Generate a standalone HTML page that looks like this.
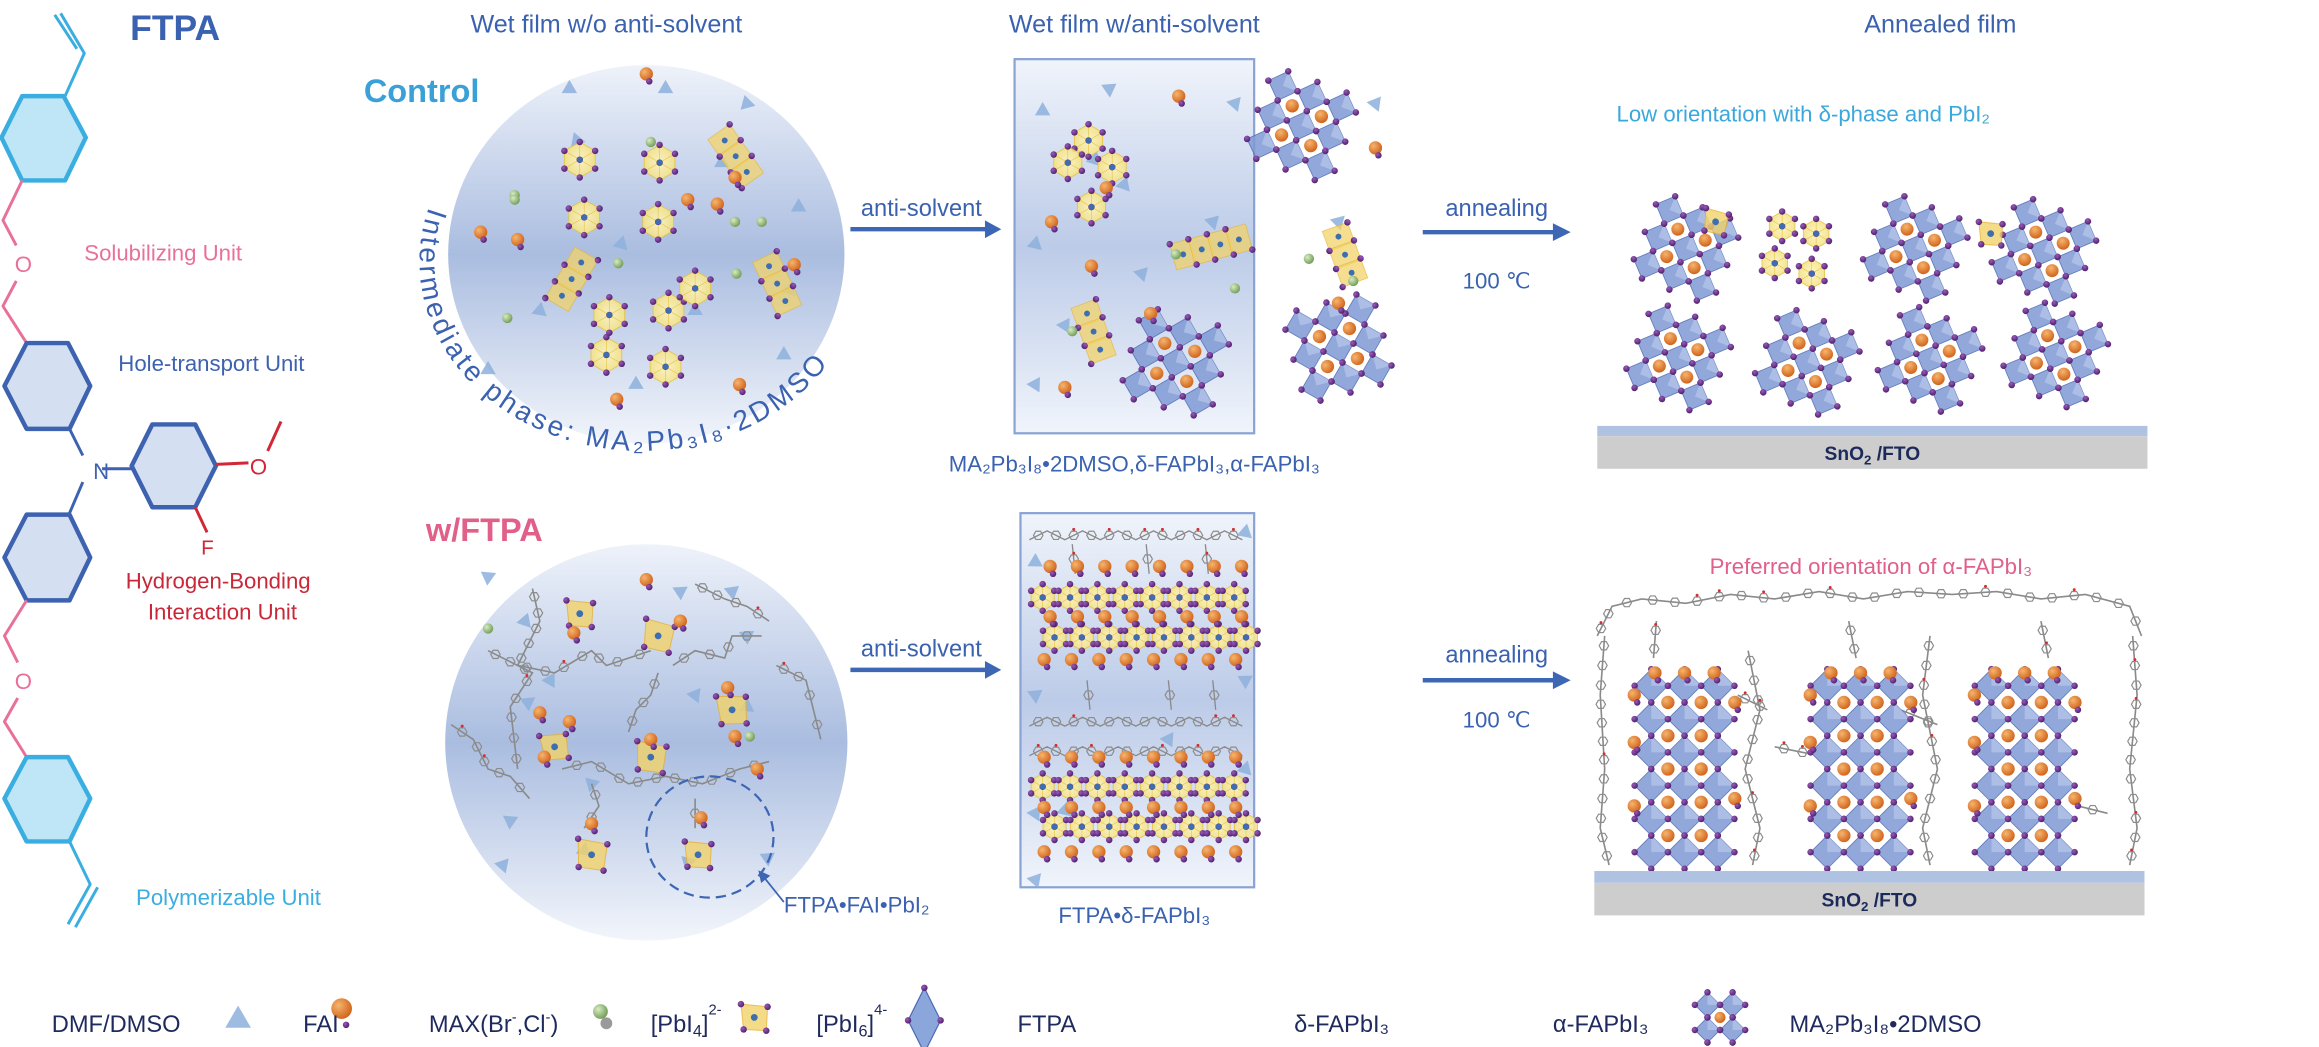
<!DOCTYPE html>
<html><head><meta charset="utf-8"><style>
html,body{margin:0;padding:0;background:#fff;}
svg{display:block;}
text{font-family:"Liberation Sans",sans-serif;}
</style></head><body>
<svg id="s" width="2319" height="1047" viewBox="0 0 1568 708" preserveAspectRatio="none" xmlns="http://www.w3.org/2000/svg">
<defs>
<linearGradient id="band" x1="0" y1="0" x2="0" y2="1">
<stop offset="0" stop-color="#eef2fa"/><stop offset="0.5" stop-color="#aabde0"/><stop offset="1" stop-color="#f2f5fb"/>
</linearGradient>
<linearGradient id="box" x1="0" y1="0" x2="0" y2="1">
<stop offset="0" stop-color="#f0f4fb"/><stop offset="0.5" stop-color="#bccbe8"/><stop offset="1" stop-color="#f0f4fb"/>
</linearGradient>
<radialGradient id="org" cx="35%" cy="35%" r="70%"><stop offset="0" stop-color="#f6b56e"/><stop offset="1" stop-color="#d0621a"/></radialGradient>
<radialGradient id="pur" cx="35%" cy="35%" r="70%"><stop offset="0" stop-color="#9a5ab8"/><stop offset="1" stop-color="#4d1f6b"/></radialGradient>
<radialGradient id="grn" cx="35%" cy="35%" r="70%"><stop offset="0" stop-color="#d8ecc0"/><stop offset="1" stop-color="#6f9a58"/></radialGradient>
<radialGradient id="hexg" cx="50%" cy="50%" r="60%"><stop offset="0" stop-color="#fff4c0"/><stop offset="1" stop-color="#f1df7a"/></radialGradient>
<marker id="ah" markerWidth="8" markerHeight="8" refX="6" refY="4" orient="auto" markerUnits="userSpaceOnUse"><path d="M0,0 L8,4 L0,8 z" fill="#3d67b4"/></marker>
</defs>

<text x="88" y="27" font-size="24" font-weight="bold" fill="#3a62b0">FTPA</text>
<text x="410" y="22" font-size="17" fill="#3a62b0" text-anchor="middle">Wet film w/o anti-solvent</text>
<text x="767" y="22" font-size="17" fill="#3a62b0" text-anchor="middle">Wet film w/anti-solvent</text>
<text x="1312" y="22" font-size="17" fill="#3a62b0" text-anchor="middle">Annealed film</text>
<text x="246" y="69" font-size="22" font-weight="bold" fill="#3aa0d8">Control</text>
<text x="288" y="366" font-size="22" font-weight="bold" fill="#e0608a">w/FTPA</text>

<g fill="none" stroke-width="3" stroke-linejoin="round">
<polygon points="43,65 58,93 44,122 15,122 1,93 15,65" stroke="#3aaee0" fill="#bfe6f7"/>
<polyline points="44,65 57,36 41,9" stroke="#3aaee0" stroke-width="2"/>
<line x1="52" y1="33" x2="37" y2="10" stroke="#3aaee0" stroke-width="2"/>
<polyline points="15,122 2,149 11,166" stroke="#e8709a" stroke-width="2"/>
<polyline points="11,190 2,207 18,232" stroke="#e8709a" stroke-width="2"/>
<polygon points="18,232 46,232 61,261 47,290 18,290 3,261" stroke="#3d62b0" fill="#d4dff2"/>
<line x1="47" y1="290" x2="56" y2="308" stroke="#3d62b0" stroke-width="2"/>
<line x1="69" y1="317" x2="90" y2="317" stroke="#3d62b0" stroke-width="2"/>
<line x1="56" y1="326" x2="47" y2="347" stroke="#3d62b0" stroke-width="2"/>
<polygon points="103,287 132,287 146,315 132,343 103,343 89,315" stroke="#3d62b0" fill="#d4dff2"/>
<line x1="146" y1="314" x2="168" y2="313" stroke="#d02838" stroke-width="2"/>
<line x1="181" y1="305" x2="190" y2="285" stroke="#d02838" stroke-width="2"/>
<line x1="132" y1="343" x2="140" y2="360" stroke="#d02838" stroke-width="2"/>
<polygon points="18,348 47,348 61,377 47,406 18,406 3,377" stroke="#3d62b0" fill="#d4dff2"/>
<polyline points="18,406 3,430 12,448" stroke="#e8709a" stroke-width="2"/>
<polyline points="12,472 3,488 18,512" stroke="#e8709a" stroke-width="2"/>
<polygon points="18,512 46,512 61,540 47,569 18,569 3,540" stroke="#3aaee0" fill="#bfe6f7"/>
<polyline points="47,569 61,598 46,625" stroke="#3aaee0" stroke-width="2"/>
<line x1="66" y1="600" x2="51" y2="627" stroke="#3aaee0" stroke-width="2"/>
</g>
<text x="10" y="184" font-size="15" fill="#e8709a">O</text>
<text x="10" y="466" font-size="15" fill="#e8709a">O</text>
<text x="63" y="324" font-size="15" fill="#3d62b0">N</text>
<text x="169" y="321" font-size="15" fill="#d02838">O</text>
<text x="136" y="375" font-size="14" fill="#d02838">F</text>
<text x="57" y="176" font-size="15" fill="#e8709a">Solubilizing Unit</text>
<text x="80" y="251" font-size="15" fill="#3d62b0">Hole-transport Unit</text>
<text x="85" y="398" font-size="15" fill="#c82838">Hydrogen-Bonding</text>
<text x="100" y="419" font-size="15" fill="#c82838">Interaction Unit</text>
<text x="92" y="612" font-size="15" fill="#3aaee0">Polymerizable Unit</text>

<ellipse cx="437" cy="172" rx="134" ry="128" fill="url(#band)"/>
<ellipse cx="437" cy="502" rx="136" ry="134" fill="url(#band)"/>
<rect x="686" y="40" width="162" height="253" fill="url(#box)" stroke="#8aa3d4" stroke-width="1.5"/>
<rect x="690" y="347" width="158" height="253" fill="url(#box)" stroke="#8aa3d4" stroke-width="1.5"/>
<g id="deco"></g>

<path id="arc" d="M 290 140 A 150 128 0 1 0 583 165" fill="none"/>
<text font-size="19" fill="#3a62b0"><textPath href="#arc" startOffset="0" textLength="400" lengthAdjust="spacing">Intermediate phase: MA₂Pb₃I₈·2DMSO</textPath></text>

<g stroke="#3d67b4" stroke-width="3" fill="#3d67b4">
<line x1="575" y1="155" x2="668" y2="155"/><path d="M666,149 L677,155 L666,161z" stroke="none"/>
<line x1="575" y1="453" x2="668" y2="453"/><path d="M666,447 L677,453 L666,459z" stroke="none"/>
<line x1="962" y1="157" x2="1052" y2="157"/><path d="M1050,151 L1062,157 L1050,163z" stroke="none"/>
<line x1="962" y1="460" x2="1052" y2="460"/><path d="M1050,454 L1062,460 L1050,466z" stroke="none"/>
</g>
<text x="623" y="146" font-size="16" fill="#3a62b0" text-anchor="middle">anti-solvent</text>
<text x="623" y="444" font-size="16" fill="#3a62b0" text-anchor="middle">anti-solvent</text>
<text x="1012" y="146" font-size="16" fill="#3a62b0" text-anchor="middle">annealing</text>
<text x="1012" y="448" font-size="16" fill="#3a62b0" text-anchor="middle">annealing</text>
<text x="1012" y="195" font-size="15" fill="#3a62b0" text-anchor="middle">100 <tspan font-family="Liberation Serif">℃</tspan></text>
<text x="1012" y="492" font-size="15" fill="#3a62b0" text-anchor="middle">100 <tspan font-family="Liberation Serif">℃</tspan></text>

<text x="767" y="319" font-size="15" fill="#3a62b0" text-anchor="middle">MA₂Pb₃I₈•2DMSO,δ-FAPbI₃,α-FAPbI₃</text>
<text x="767" y="624" font-size="15" fill="#3a62b0" text-anchor="middle">FTPA•δ-FAPbI₃</text>
<text x="1093" y="82" font-size="15" fill="#3aa8dc">Low orientation with δ-phase and PbI₂</text>
<text x="1265" y="388" font-size="15" fill="#e0608a" text-anchor="middle">Preferred orientation of α-FAPbI₃</text>
<text x="530" y="617" font-size="15" fill="#3a62b0">FTPA•FAI•PbI₂</text>
<ellipse cx="480" cy="566" rx="43" ry="41" fill="none" stroke="#3d67b4" stroke-width="1.5" stroke-dasharray="7,4"/>
<line x1="530" y1="610" x2="514" y2="590" stroke="#3d67b4" stroke-width="1.2" marker-end="url(#ah)"/>

<rect x="1080" y="288" width="372" height="7" fill="#b0c2e2"/>
<rect x="1080" y="295" width="372" height="22" fill="#cdcdcd"/>
<text x="1266" y="311" font-size="13" font-weight="bold" fill="#1c2a5a" text-anchor="middle" font-family="Liberation Serif">SnO<tspan font-size="9" dy="3">2</tspan><tspan dy="-3"> /FTO</tspan></text>
<rect x="1078" y="589" width="372" height="8" fill="#b0c2e2"/>
<rect x="1078" y="597" width="372" height="22" fill="#cdcdcd"/>
<text x="1264" y="613" font-size="13" font-weight="bold" fill="#1c2a5a" text-anchor="middle" font-family="Liberation Serif">SnO<tspan font-size="9" dy="3">2</tspan><tspan dy="-3"> /FTO</tspan></text>

<g font-size="16" fill="#1e2a5e">
<text x="35" y="698">DMF/DMSO</text>
<text x="205" y="698">FAI</text>
<text x="290" y="698">MAX(Br<tspan font-size="10" dy="-7">-</tspan><tspan dy="7">,Cl</tspan><tspan font-size="10" dy="-7">-</tspan><tspan dy="7">)</tspan></text>
<text x="440" y="698">[PbI<tspan font-size="11" dy="3">4</tspan><tspan dy="-3">]</tspan><tspan font-size="10" dy="-12">2-</tspan></text>
<text x="552" y="698">[PbI<tspan font-size="11" dy="3">6</tspan><tspan dy="-3">]</tspan><tspan font-size="10" dy="-12">4-</tspan></text>
<text x="688" y="698">FTPA</text>
<text x="875" y="698">δ-FAPbI₃</text>
<text x="1050" y="698">α-FAPbI₃</text>
<text x="1210" y="698">MA₂Pb₃I₈•2DMSO</text>
</g>
</svg>
<script>
var NS="http://www.w3.org/2000/svg",D=document.getElementById('deco');
function el(t,a,p){var e=document.createElementNS(NS,t);for(var k in a)e.setAttribute(k,a[k]);(p||D).appendChild(e);return e;}
var seed=7;function rnd(){seed=(seed*16807)%2147483647;return seed/2147483647;}
function ball(x,y,r,f){el('circle',{cx:x,cy:y,r:r,fill:'url(#'+f+')'});}
function pdot(x,y){ball(x,y,2.2,'pur');}
function tri(x,y,s,rot){var g=el('g',{transform:'translate('+x+','+y+') rotate('+rot+')'});el('polygon',{points:'0,'+(-s)+' '+(s*0.87)+','+(s*0.5)+' '+(-s*0.87)+','+(s*0.5),fill:'#8db0dc',opacity:0.85},g);}
function fai(x,y){ball(x,y,4.5,'org');pdot(x+2,y+5);}
function max(x,y){ball(x,y,3.5,'grn');}
function yhex(x,y,r){var p=[];for(var i=0;i<6;i++){var a=Math.PI/3*i+Math.PI/6;p.push([x+r*Math.cos(a),y+r*Math.sin(a)]);}
el('polygon',{points:p.map(function(q){return q.join(',')}).join(' '),fill:'url(#hexg)',stroke:'#e6c23c','stroke-width':0.6,opacity:0.9});
p.forEach(function(q){el('line',{x1:x,y1:y,x2:q[0],y2:q[1],stroke:'#e6c23c','stroke-width':0.4});});
p.forEach(function(q){pdot(q[0],q[1]);});ball(x,y,2.2,'pur');el('circle',{cx:x,cy:y,r:2,fill:'#3d6fb0'});}
function ychain(x,y,n,rot){var g=el('g',{transform:'translate('+x+','+y+') rotate('+rot+')'});var sv=D;D=g;
for(var i=0;i<n;i++){el('polygon',{points:(i*13-7)+',-9 '+(i*13+7)+',-9 '+(i*13+7)+',9 '+(i*13-7)+',9',fill:'#f2d36a',opacity:0.75,stroke:'#e8b830','stroke-width':0.6});}
for(var i=0;i<n;i++){pdot(i*13-7,-9);pdot(i*13+7,9);el('circle',{cx:i*13,cy:0,r:2,fill:'#3d6fb0'});}D=sv;}
function pbi4(x,y,s,rot){var g=el('g',{transform:'translate('+x+','+y+') rotate('+rot+')'});var sv=D;D=g;
el('polygon',{points:(-s)+','+(-s)+' '+s+','+(-s*0.8)+' '+(s*0.9)+','+s+' '+(-s*0.8)+','+(s*0.9),fill:'#f2d36a',opacity:0.8,stroke:'#e8b030','stroke-width':0.7});
pdot(-s,-s);pdot(s,-s*0.8);pdot(s*0.9,s);pdot(-s*0.8,s*0.9);el('circle',{cx:0,cy:0,r:2.3,fill:'#3d6fb0'});D=sv;}
function cluster(x,y,d,rot,n,m){var g=el('g',{transform:'translate('+x+','+y+') rotate('+rot+')'});var sv=D;D=g;
n=n||3;m=m||3;var ox=-(n-1)*d/2,oy=-(m-1)*d/2,h=d/2;
for(var i=0;i<n;i++)for(var j=0;j<m;j++){var cx=ox+i*d,cy=oy+j*d;
el('polygon',{points:cx+','+(cy-h)+' '+(cx+h)+','+cy+' '+cx+','+(cy+h)+' '+(cx-h)+','+cy,fill:'#7f9ad4',opacity:0.85,stroke:'#4a68b4','stroke-width':0.6});
el('polygon',{points:cx+','+(cy-h)+' '+(cx+h)+','+cy+' '+cx+','+cy,fill:'#b8c8ea',opacity:0.7});}
for(var i=0;i<n;i++)for(var j=0;j<m;j++){var cx=ox+i*d,cy=oy+j*d;pdot(cx,cy-h);pdot(cx+h,cy);pdot(cx,cy+h);pdot(cx-h,cy);}
for(var i=0;i<n-1;i++)for(var j=0;j<m-1;j++)ball(ox+(i+0.5)*d,oy+(j+0.5)*d,Math.min(4.5,d*0.22),'org');D=sv;}
function poly(pts,w){el('polyline',{points:pts.map(function(q){return q.join(',')}).join(' '),fill:'none',stroke:'#8a8a8a','stroke-width':w||1.1});
for(var k=0;k<pts.length-1;k++){var a=pts[k],b=pts[k+1],L=Math.hypot(b[0]-a[0],b[1]-a[1]),nn=Math.floor(L/11);
for(var t=0;t<nn;t++){var f=(t+0.5)/nn,x=a[0]+(b[0]-a[0])*f,y=a[1]+(b[1]-a[1])*f;
var r=3.2,p=[];for(var i=0;i<6;i++){var an=Math.PI/3*i;p.push((x+r*Math.cos(an))+','+(y+r*Math.sin(an)));}
el('polygon',{points:p.join(' '),fill:'none',stroke:'#8c8c8c','stroke-width':0.8});
if(rnd()<0.25)el('circle',{cx:x,cy:y-4,r:1,fill:'#d03030'});}}}

[[390,95,-20],[365,210,10],[420,165,15],[505,70,-15],[534,196,20],[488,110,0],[330,250,0],[540,140,0],[385,60,0],[470,210,0],[530,240,0],[430,260,0],[450,60,0]].forEach(function(t){tri(t[0],t[1],6,t[2]);});
[[392,108],[446,110],[395,147],[445,150],[452,210],[412,213],[470,195],[410,240],[450,248]].forEach(function(c){yhex(c[0],c[1],12);});
ychain(490,95,3,55);ychain(380,200,3,-60);ychain(520,180,3,65);
[[437,50],[485,138],[325,157],[350,162],[537,179],[465,135],[497,120],[417,270],[500,260]].forEach(function(c){fai(c[0],c[1]);});
[[348,132],[348,135],[440,96],[497,150],[418,178],[343,215],[498,185],[515,150]].forEach(function(c){max(c[0],c[1]);});

[[705,75],[750,60],[740,108],[700,165],[772,185],[700,260],[760,125],[820,150],[905,150],[720,220],[835,70],[930,70]].forEach(function(t){tri(t[0],t[1],6,rnd()*60);});
[[736,95],[722,110],[752,113],[738,140]].forEach(function(c){yhex(c[0],c[1],11);});
ychain(800,172,4,-15);ychain(905,160,3,70);ychain(735,212,3,70);
cluster(880,85,21,20);cluster(795,245,21,15);cluster(905,235,21,-15);
[[797,65],[748,127],[711,150],[738,180],[778,212],[720,262],[930,100],[905,205]].forEach(function(c){fai(c[0],c[1]);});
[[795,172],[725,224],[885,175],[915,190],[835,195]].forEach(function(c){max(c[0],c[1]);});

cluster(1140,168,20,22);cluster(1295,168,20,22);cluster(1382,170,20,22);
cluster(1135,242,20,22);cluster(1222,245,20,22);cluster(1305,243,20,22);cluster(1390,240,20,22);
[[1205,153],[1228,158],[1200,178],[1225,185]].forEach(function(c){yhex(c[0],c[1],10);});
pbi4(1160,150,8,10);pbi4(1346,158,8,0);

[[330,390],[355,420],[372,460],[460,400],[505,430],[505,478],[357,475],[470,470],[400,530],[345,555],[395,575],[340,585],[465,583],[519,580],[495,400]].forEach(function(t){tri(t[0],t[1],6,rnd()*80);});
poly([[360,398],[365,420],[350,450],[375,455],[400,440],[410,450],[440,440]]);
poly([[330,440],[360,455],[345,478],[350,520]]);
poly([[305,490],[320,500],[330,520],[345,525],[358,540]]);
poly([[470,395],[490,405],[505,410],[520,420]]);
poly([[455,450],[470,440],[490,445],[495,430],[515,430]]);
poly([[445,455],[440,470],[430,480],[425,495]]);
poly([[525,450],[545,460],[550,480],[555,500]]);
poly([[380,520],[400,515],[425,530],[450,525],[475,530],[500,520],[520,515]]);
poly([[400,530],[405,545],[395,560]]);
poly([[470,540],[470,560]]);
pbi4(392,415,9,0);pbi4(445,430,10,10);pbi4(375,505,9,-10);pbi4(440,512,10,5);pbi4(495,480,10,-5);pbi4(400,578,10,5);pbi4(472,578,9,0);
[[437,392],[388,428],[460,420],[365,482],[385,488],[368,512],[440,500],[492,465],[497,498],[400,557],[474,553],[512,520]].forEach(function(c){fai(c[0],c[1]);});
[[330,425],[507,498]].forEach(function(c){max(c[0],c[1]);});

function prow(y){var pts=[];for(var x=696;x<=842;x+=12)pts.push([x,y+((x/12)%2?-3:3)]);poly(pts,0.9);}
prow(362);prow(488);prow(508);
[[725,378],[775,378],[815,378],[735,470],[790,470],[820,470]].forEach(function(c){poly([[c[0],c[1]-10],[c[0]+2,c[1]+10]],0.9);});
[[700,380],[700,470],[842,360],[842,460],[700,550],[700,595],[842,520],[842,560],[720,548],[790,500]].forEach(function(t){tri(t[0],t[1],6,rnd()*60);});
[404,532].forEach(function(y){for(var i=0;i<8;i++)yhex(705+i*18.5,y,9);for(var i=0;i<8;i++)yhex(713+i*18.5,y+27,9);});
[383,417,446,512,546,576].forEach(function(y){for(var i=0;i<8;i++)fai(706+i*18.5+(y%2?4:0),y);});

poly([[1080,430],[1090,410],[1110,405],[1140,408],[1170,402],[1200,405],[1230,400],[1260,405],[1290,400],[1320,402],[1350,400],[1380,405],[1410,402],[1440,410],[1448,430]]);
poly([[1085,430],[1082,470],[1085,520],[1082,560],[1088,585]]);
poly([[1442,430],[1445,470],[1440,520],[1445,560],[1440,585]]);
poly([[1182,440],[1190,480],[1180,520],[1190,560],[1185,585]]);
poly([[1305,430],[1300,470],[1310,520],[1300,560],[1305,585]]);
poly([[1120,420],[1118,445]]);poly([[1250,420],[1255,445]]);poly([[1380,420],[1385,445]]);
poly([[1200,505],[1225,510]]);poly([[1175,470],[1195,480]]);poly([[1285,480],[1310,490]]);poly([[1405,545],[1425,550]]);
cluster(1139,520,22.5,0,3,6);cluster(1258,520,22.5,0,3,6);cluster(1369,520,22.5,0,3,6);
[1139,1258,1369].forEach(function(x){[[-34,470],[-34,502],[-34,545],[34,475],[34,540],[-20,455],[0,455],[20,455]].forEach(function(o){fai(x+o[0],o[1]);});});
tri(161,690,10,0);ball(231,682,7,'org');pdot(234,693);ball(406,684,5,'grn');el('circle',{cx:410,cy:692,r:4,fill:'#9a9a9a'});
pbi4(510,688,9,0);
el('polygon',{points:'625,668 636,690 625,712 614,690',fill:'#8aa6da',stroke:'#4a68b4','stroke-width':0.8});pdot(625,668);pdot(625,712);pdot(614,690);pdot(636,690);
cluster(1163,688,17,0,2,2);
</script>
</body></html>
